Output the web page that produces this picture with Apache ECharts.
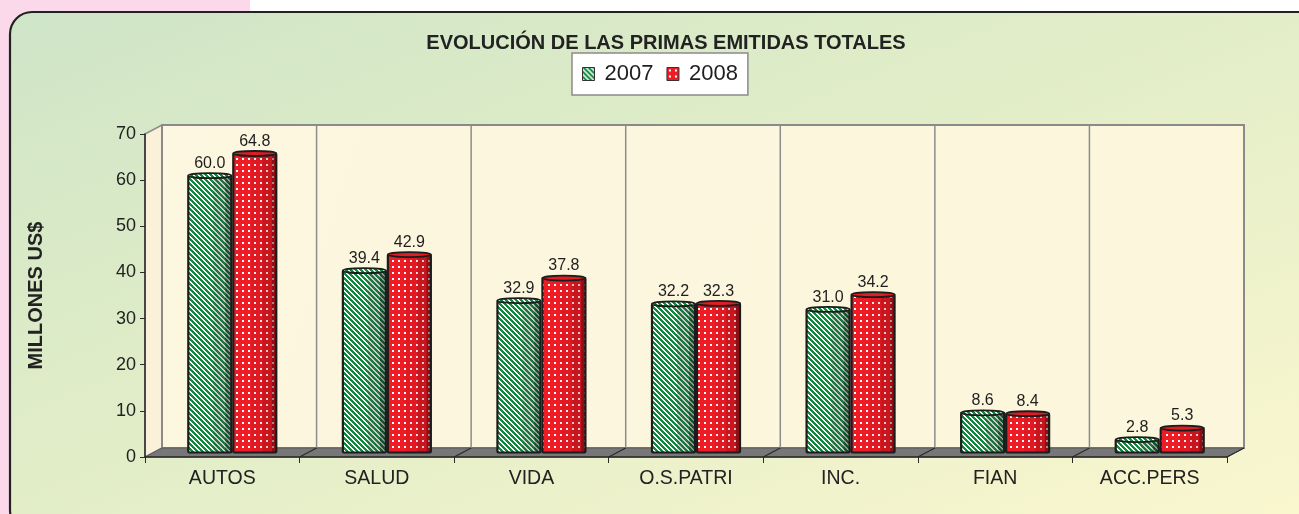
<!DOCTYPE html>
<html>
<head>
<meta charset="utf-8">
<script src="https://cdn.jsdelivr.net/npm/echarts@6/dist/echarts.min.js"></script>
<style>
  html, body { margin: 0; padding: 0; background: #ffffff; }
  #chart { width: 1299px; height: 514px; }
</style>
</head>
<body>
<div id="chart"></div>
<script>
// Insurance lines and written premiums (millions of US$)
const categories = ['AUTOS', 'SALUD', 'VIDA', 'O.S.PATRI', 'INC.', 'FIAN', 'ACC.PERS'];
const primas2007 = [60.0, 39.4, 32.9, 32.2, 31.0, 8.6, 2.8];
const primas2008 = [64.8, 42.9, 37.8, 32.3, 34.2, 8.4, 5.3];
const seriesNames = ['2007', '2008'];
const yMin = 0, yMax = 70, yStep = 10;

const FONT = '"Liberation Sans", Arial, sans-serif';
const DX = 17, DY = -9;      // depth of the 3D box
const BAR_W = 43;

// Pixel patterns for the bar fills
function stripePattern() {
  const c = document.createElement('canvas');
  c.width = 5; c.height = 5;
  const ctx = c.getContext('2d');
  const img = ctx.createImageData(5, 5);
  for (let y = 0; y < 5; y++) {
    for (let x = 0; x < 5; x++) {
      const g = (((x - y) % 5) + 5) % 5 < 3;
      const k = (y * 5 + x) * 4;
      img.data[k] = g ? 0x12 : 0xff;
      img.data[k + 1] = g ? 0x8a : 0xff;
      img.data[k + 2] = g ? 0x3e : 0xff;
      img.data[k + 3] = 255;
    }
  }
  ctx.putImageData(img, 0, 0);
  return { image: c, repeat: 'repeat' };
}
function dotPattern() {
  const c = document.createElement('canvas');
  c.width = 6; c.height = 6;
  const ctx = c.getContext('2d');
  ctx.fillStyle = '#ee1c25';
  ctx.fillRect(0, 0, 6, 6);
  ctx.fillStyle = '#ffffff';
  ctx.fillRect(2, 2, 2, 2);
  return { image: c, repeat: 'repeat' };
}
const greenFill = stripePattern();
const redFill = dotPattern();

const greenShades = [[0.58, 0.86, 'rgba(60,60,60,0.25)'], [0.86, 1, 'rgba(20,20,20,0.45)']];
const redShades = [[0.42, 0.68, 'rgba(80,0,0,0.08)'], [0.68, 0.9, 'rgba(70,0,10,0.22)'], [0.9, 1, 'rgba(30,0,0,0.45)']];

function makeBarRender(fill, shades, capFill, leftOffset) {
  return function (params, api) {
    const idx = api.value(0), val = api.value(1);
    const p0 = api.coord([idx, 0]);
    const p1 = api.coord([idx, val]);
    const x0 = p0[0] + leftOffset;
    const yb = p0[1] + DY / 2, yt = p1[1] + DY / 2;
    const h = yb - yt;
    const children = [
      { type: 'rect', shape: { x: x0, y: yt, width: BAR_W, height: h }, style: { fill: fill } }
    ];
    shades.forEach(function (s) {
      children.push({ type: 'rect',
        shape: { x: x0 + BAR_W * s[0], y: yt, width: BAR_W * (s[1] - s[0]), height: h },
        style: { fill: s[2] } });
    });
    children.push({ type: 'rect', shape: { x: x0, y: yt, width: BAR_W, height: h, r: 1 },
      style: { fill: 'none', stroke: '#1c1c1c', lineWidth: 2.2 } });
    children.push({ type: 'ellipse', shape: { cx: x0 + BAR_W / 2, cy: yt, rx: BAR_W / 2, ry: 2.5 },
      style: { fill: capFill, stroke: '#1c1c1c', lineWidth: 1.8 } });
    children.push({ type: 'text', style: {
      text: val.toFixed(1), x: x0 + BAR_W / 2, y: yt - 4,
      align: 'center', verticalAlign: 'bottom',
      font: '16px ' + FONT, fill: '#1e1e1e' } });
    return { type: 'group', children: children };
  };
}

// Back wall, side wall and floor of the 3D box
function renderBox(params, api) {
  const cs = params.coordSys;
  const gx = cs.x, gy = cs.y, gw = cs.width, gh = cs.height;
  const band = gw / categories.length;
  const children = [
    { type: 'polygon', shape: { points: [[gx, gy], [gx + DX, gy + DY], [gx + DX, gy + gh + DY], [gx, gy + gh]] },
      style: { fill: '#fbf1d9', stroke: '#8c8c8c', lineWidth: 1.5 } },
    { type: 'rect', shape: { x: gx + DX, y: gy + DY, width: gw, height: gh },
      style: { fill: new echarts.graphic.LinearGradient(0, 0, 1, 1, [
        { offset: 0, color: '#fdf6e0' }, { offset: 1, color: '#fcf6dc' }]),
        stroke: '#8a8a8a', lineWidth: 2 } },
    { type: 'polygon', shape: { points: [[gx, gy + gh], [gx + DX, gy + gh + DY], [gx + gw + DX, gy + gh + DY], [gx + gw, gy + gh]] },
      style: { fill: '#777777', stroke: '#5a5a5a', lineWidth: 1 } }
  ];
  for (let k = 1; k < categories.length; k++) {
    const x = gx + k * band;
    children.push({ type: 'line', shape: { x1: x + DX, y1: gy + DY, x2: x + DX, y2: gy + gh + DY },
      style: { stroke: '#8c8c8c', lineWidth: 1.5 } });
  }
  for (let k = 1; k <= categories.length; k++) {
    const x = gx + k * band;
    children.push({ type: 'line', shape: { x1: x, y1: gy + gh, x2: x + DX, y2: gy + gh + DY },
      style: { stroke: '#2a2a2a', lineWidth: 1.2 } });
  }
  return { type: 'group', children: children };
}

const chart = echarts.init(document.getElementById('chart'), null, { renderer: 'canvas' });
chart.setOption({
  animation: false,
  graphic: [
    { type: 'rect', z: -10, silent: true, shape: { x: 0, y: 0, width: 250, height: 514 },
      style: { fill: '#fbd9ea' } },
    { type: 'rect', z: -9, silent: true, shape: { x: 10, y: 12, width: 1310, height: 520, r: 22 },
      style: {
        fill: new echarts.graphic.LinearGradient(482, -177, 838, 717, [
          { offset: 0, color: '#cfe5c7' }, { offset: 0.5, color: '#e3eec8' }, { offset: 1, color: '#fbf7cf' }], true),
        stroke: '#222222', lineWidth: 2.2 } }
  ],
  title: {
    text: 'EVOLUCIÓN DE LAS PRIMAS EMITIDAS TOTALES',
    left: 661, top: 28, textAlign: 'center',
    textStyle: { fontFamily: FONT, fontSize: 20, fontWeight: 'bold', color: '#222222' }
  },
  legend: {
    data: seriesNames,
    left: 572, top: 53,
    backgroundColor: '#ffffff', borderColor: '#8a8a8a', borderWidth: 1.5,
    padding: [10, 10, 10, 10], itemGap: 13, itemWidth: 12, itemHeight: 13, icon: 'rect',
    itemStyle: { borderColor: '#333333', borderWidth: 1 },
    textStyle: { fontFamily: FONT, fontSize: 22, color: '#1e1e1e', padding: [0, 0, 0, 5] }
  },
  grid: { left: 145, right: 72, top: 134, bottom: 57 },
  xAxis: {
    type: 'category', data: categories, boundaryGap: true,
    axisLine: { lineStyle: { color: '#2a2a2a', width: 1.5 } },
    axisTick: { show: true, length: 6, lineStyle: { color: '#2a2a2a' } },
    axisLabel: { fontFamily: FONT, fontSize: 19.5, color: '#222222', margin: 12 },
    splitLine: { show: false }
  },
  yAxis: {
    type: 'value', min: yMin, max: yMax, interval: yStep,
    name: 'MILLONES US$', nameLocation: 'middle', nameGap: 99, nameRotate: 90,
    nameTextStyle: { fontFamily: FONT, fontSize: 20, fontWeight: 'bold', color: '#222222' },
    axisLine: { show: true, lineStyle: { color: '#2a2a2a', width: 1.5 } },
    axisTick: { show: true, length: 5, lineStyle: { color: '#2a2a2a' } },
    axisLabel: { fontFamily: FONT, fontSize: 18, color: '#222222', margin: 9 },
    splitLine: { show: false }
  },
  series: [
    { type: 'custom', name: 'box', z: -1, silent: true, data: [[0, 0]], encode: { x: 0, y: 1 },
      renderItem: renderBox },
    { type: 'custom', name: seriesNames[0], z: 3,
      itemStyle: { color: greenFill },
      data: primas2007.map(function (v, i) { return [i, v]; }), encode: { x: 0, y: 1 },
      renderItem: makeBarRender(greenFill, greenShades, greenFill, -34) },
    { type: 'custom', name: seriesNames[1], z: 3,
      itemStyle: { color: redFill },
      data: primas2008.map(function (v, i) { return [i, v]; }), encode: { x: 0, y: 1 },
      renderItem: makeBarRender(redFill, redShades, '#e31b24', 11) }
  ]
});
</script>
</body>
</html>
